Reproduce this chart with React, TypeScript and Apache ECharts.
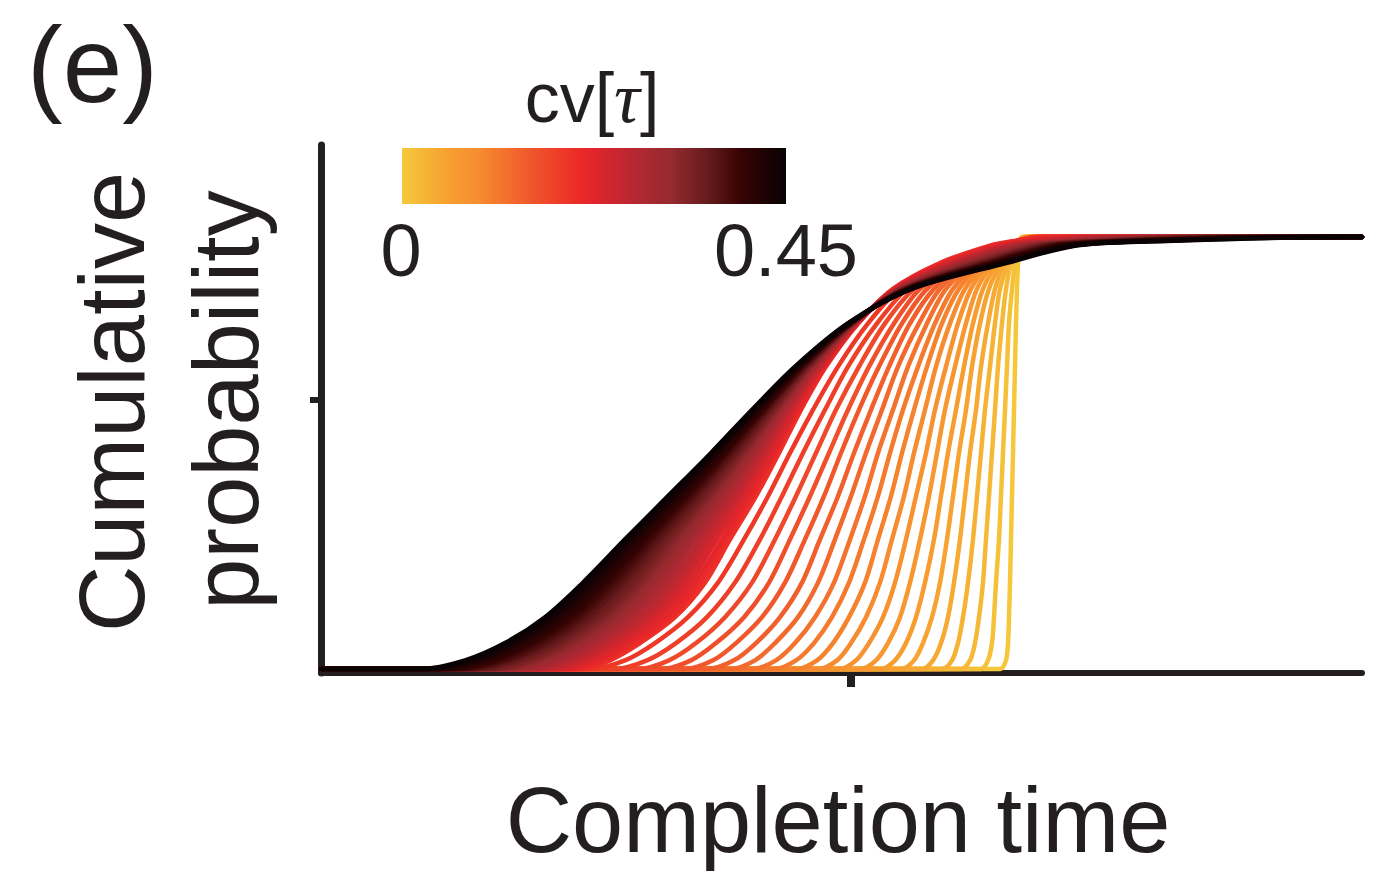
import { useEffect, useRef } from "react";
import * as echarts from "echarts";

// Cumulative probability levels at which each curve's completion time was read
const probLevels = [0, 0.02, 0.06, 0.12, 0.2, 0.3, 0.4, 0.5, 0.6, 0.7, 0.8, 0.88, 0.94, 0.98, 0.99, 1];
// cv[tau] of each curve (yellow -> black)
const cvValues = [
  0, 0.01, 0.02, 0.03, 0.04, 0.05, 0.06, 0.07, 0.08, 0.09,
  0.1, 0.11, 0.12, 0.13, 0.14, 0.15, 0.16, 0.17, 0.18, 0.19,
  0.2, 0.21, 0.22, 0.23, 0.24, 0.25, 0.26, 0.27, 0.28, 0.29,
  0.3, 0.31, 0.32, 0.33, 0.34, 0.35, 0.36, 0.37, 0.38, 0.39,
  0.4, 0.41, 0.42, 0.43, 0.44, 0.45,
];
// completion time (arbitrary units) at each probability level, one row per curve
const curveTimes = [
  [67.9, 68.5, 68.7, 68.8, 68.9, 69.0, 69.1, 69.2, 69.3, 69.4, 69.5, 69.6, 69.7, 69.8, 69.85, 70.1],
  [66.0, 66.7, 67.1, 67.3, 67.5, 67.8, 68.0, 68.2, 68.4, 68.6, 68.8, 69.1, 69.4, 69.7, 69.8, 70.2],
  [64.0, 64.9, 65.4, 65.8, 66.2, 66.5, 66.8, 67.1, 67.4, 67.7, 68.1, 68.5, 69.0, 69.6, 69.8, 70.3],
  [62.1, 63.1, 63.7, 64.2, 64.7, 65.2, 65.6, 66.0, 66.4, 66.9, 67.4, 67.9, 68.7, 69.4, 69.8, 70.4],
  [60.1, 61.2, 62.0, 62.7, 63.3, 63.9, 64.4, 64.9, 65.5, 66.0, 66.7, 67.4, 68.3, 69.3, 69.8, 70.4],
  [58.0, 59.3, 60.2, 61.1, 61.9, 62.6, 63.2, 63.8, 64.5, 65.1, 65.9, 66.8, 68.0, 69.2, 69.7, 70.5],
  [56.0, 57.4, 58.5, 59.5, 60.4, 61.3, 62.0, 62.7, 63.5, 64.3, 65.2, 66.2, 67.6, 69.0, 69.7, 70.6],
  [53.9, 55.5, 56.7, 57.9, 58.9, 59.9, 60.8, 61.6, 62.4, 63.4, 64.5, 65.6, 67.2, 68.9, 69.7, 70.7],
  [51.8, 53.5, 54.8, 56.2, 57.4, 58.5, 59.5, 60.5, 61.4, 62.5, 63.7, 65.0, 66.8, 68.8, 69.7, 70.8],
  [49.7, 51.6, 53.0, 54.5, 55.9, 57.1, 58.3, 59.3, 60.4, 61.5, 62.9, 64.4, 66.5, 68.6, 69.7, 70.9],
  [47.5, 49.6, 51.2, 52.8, 54.4, 55.7, 57.0, 58.1, 59.3, 60.6, 62.1, 63.8, 66.1, 68.5, 69.6, 71.0],
  [45.3, 47.5, 49.3, 51.1, 52.8, 54.3, 55.7, 56.9, 58.2, 59.7, 61.4, 63.2, 65.7, 68.4, 69.6, 71.1],
  [43.1, 45.5, 47.4, 49.4, 51.3, 52.9, 54.4, 55.7, 57.2, 58.7, 60.6, 62.5, 65.3, 68.2, 69.6, 71.2],
  [40.9, 43.4, 45.4, 47.7, 49.7, 51.4, 53.0, 54.5, 56.1, 57.7, 59.8, 61.9, 64.9, 68.1, 69.6, 71.3],
  [38.6, 41.3, 43.5, 45.9, 48.1, 49.9, 51.7, 53.3, 55.0, 56.8, 58.9, 61.3, 64.5, 67.9, 69.5, 71.4],
  [36.3, 39.2, 41.5, 44.1, 46.4, 48.4, 50.3, 52.0, 53.8, 55.8, 58.1, 60.6, 64.1, 67.8, 69.5, 71.5],
  [34.0, 37.0, 39.5, 42.3, 44.8, 46.9, 48.9, 50.8, 52.7, 54.8, 57.3, 59.9, 63.7, 67.6, 69.5, 71.6],
  [31.7, 34.8, 37.5, 40.4, 43.1, 45.4, 47.5, 49.5, 51.5, 53.8, 56.4, 59.3, 63.3, 67.5, 69.5, 71.7],
  [29.3, 32.6, 35.5, 38.6, 41.4, 43.9, 46.1, 48.2, 50.4, 52.7, 55.6, 58.6, 62.8, 67.4, 69.4, 71.8],
  [26.9, 30.4, 33.4, 36.7, 39.7, 42.3, 44.7, 46.9, 49.2, 51.7, 54.7, 57.9, 62.4, 67.2, 69.4, 71.9],
  [26.4, 28.9, 31.9, 35.4, 38.4, 40.9, 43.5, 45.8, 48.0, 50.5, 53.7, 57.2, 61.9, 66.9, 69.1, 71.9],
  [25.7, 28.3, 31.4, 34.9, 37.9, 40.5, 43.1, 45.5, 47.8, 50.4, 53.7, 57.3, 62.2, 67.2, 69.7, 73.1],
  [25.1, 27.7, 30.8, 34.4, 37.4, 40.1, 42.8, 45.3, 47.6, 50.3, 53.6, 57.4, 62.4, 67.6, 70.2, 74.3],
  [24.4, 27.2, 30.3, 33.8, 36.9, 39.6, 42.4, 45.0, 47.4, 50.1, 53.6, 57.4, 62.7, 67.9, 70.8, 75.5],
  [23.8, 26.6, 29.7, 33.3, 36.4, 39.2, 42.1, 44.7, 47.2, 50.0, 53.5, 57.5, 63.0, 68.3, 71.4, 76.7],
  [23.1, 26.0, 29.2, 32.8, 36.0, 38.8, 41.7, 44.4, 47.0, 49.9, 53.5, 57.6, 63.2, 68.6, 71.9, 77.9],
  [22.4, 25.4, 28.7, 32.3, 35.5, 38.4, 41.4, 44.2, 46.8, 49.8, 53.5, 57.7, 63.5, 68.9, 72.5, 79.1],
  [21.8, 24.8, 28.1, 31.8, 35.0, 38.0, 41.0, 43.9, 46.6, 49.6, 53.4, 57.7, 63.8, 69.3, 73.0, 80.3],
  [21.1, 24.3, 27.6, 31.2, 34.5, 37.5, 40.7, 43.6, 46.4, 49.5, 53.4, 57.8, 64.0, 69.6, 73.6, 81.5],
  [20.5, 23.7, 27.0, 30.7, 34.0, 37.1, 40.3, 43.4, 46.2, 49.4, 53.3, 57.9, 64.3, 70.0, 74.2, 82.7],
  [19.8, 23.1, 26.5, 30.2, 33.5, 36.7, 40.0, 43.1, 46.0, 49.3, 53.3, 58.0, 64.6, 70.3, 74.7, 83.9],
  [19.1, 22.5, 26.0, 29.7, 33.0, 36.3, 39.6, 42.8, 45.8, 49.1, 53.3, 58.0, 64.8, 70.6, 75.3, 85.1],
  [18.5, 21.9, 25.4, 29.2, 32.5, 35.9, 39.3, 42.5, 45.6, 49.0, 53.2, 58.1, 65.1, 71.0, 75.9, 86.3],
  [17.8, 21.4, 24.9, 28.6, 32.1, 35.4, 38.9, 42.3, 45.5, 48.9, 53.2, 58.2, 65.4, 71.3, 76.4, 87.5],
  [17.2, 20.8, 24.3, 28.1, 31.6, 35.0, 38.6, 42.0, 45.3, 48.8, 53.1, 58.3, 65.7, 71.7, 77.0, 88.7],
  [16.5, 20.2, 23.8, 27.6, 31.1, 34.6, 38.2, 41.7, 45.1, 48.6, 53.1, 58.3, 65.9, 72.0, 77.6, 89.9],
  [15.8, 19.6, 23.3, 27.1, 30.6, 34.2, 37.9, 41.5, 44.9, 48.5, 53.1, 58.4, 66.2, 72.3, 78.1, 91.1],
  [15.2, 19.0, 22.7, 26.6, 30.1, 33.8, 37.5, 41.2, 44.7, 48.4, 53.0, 58.5, 66.5, 72.7, 78.7, 92.3],
  [14.5, 18.5, 22.2, 26.0, 29.6, 33.3, 37.2, 40.9, 44.5, 48.3, 53.0, 58.6, 66.7, 73.0, 79.3, 93.5],
  [13.9, 17.9, 21.6, 25.5, 29.1, 32.9, 36.8, 40.6, 44.3, 48.1, 52.9, 58.6, 67.0, 73.4, 79.8, 94.7],
  [13.2, 17.3, 21.1, 25.0, 28.6, 32.5, 36.5, 40.4, 44.1, 48.0, 52.9, 58.7, 67.3, 73.7, 80.4, 95.9],
  [12.5, 16.7, 20.6, 24.5, 28.2, 32.1, 36.1, 40.1, 43.9, 47.9, 52.9, 58.8, 67.5, 74.0, 80.9, 97.1],
  [11.9, 16.1, 20.0, 24.0, 27.7, 31.7, 35.8, 39.8, 43.7, 47.8, 52.8, 58.9, 67.8, 74.4, 81.5, 98.3],
  [11.2, 15.6, 19.5, 23.4, 27.2, 31.2, 35.4, 39.5, 43.5, 47.6, 52.8, 58.9, 68.1, 74.7, 82.1, 99.5],
  [10.6, 15.0, 18.9, 22.9, 26.7, 30.8, 35.1, 39.3, 43.3, 47.5, 52.7, 59.0, 68.3, 75.1, 82.6, 100.7],
  [9.9, 14.4, 18.4, 22.4, 26.2, 30.4, 34.7, 39.0, 43.1, 47.4, 52.7, 59.1, 68.6, 75.4, 83.2, 101.9],
];
const cvMax = 0.45;
const xMax = 104.1;
const xTicks = [53];
const yTicks = [0.6227];
const colorbarLabels = ["0", "0.45"];

const cmapStops: [number, string][] = [
  [0.0, "#f5c83b"],
  [0.12, "#f7a030"],
  [0.2, "#f68c2f"],
  [0.33, "#f0592c"],
  [0.46, "#ec2a27"],
  [0.5, "#e0252b"],
  [0.62, "#b02832"],
  [0.7, "#952a2f"],
  [0.8, "#651a1c"],
  [0.88, "#380303"],
  [1.0, "#080204"],
];

function hexToRgb(h: string) {
  return [parseInt(h.slice(1, 3), 16), parseInt(h.slice(3, 5), 16), parseInt(h.slice(5, 7), 16)];
}
function colorAt(f: number) {
  for (let i = 1; i < cmapStops.length; i++) {
    const [f1, c1] = cmapStops[i];
    const [f0, c0] = cmapStops[i - 1];
    if (f <= f1 + 1e-9) {
      const u = Math.max(0, Math.min(1, (f - f0) / (f1 - f0 || 1)));
      const a = hexToRgb(c0);
      const b = hexToRgb(c1);
      const r = a.map((v, k) => Math.round(v + (b[k] - v) * u));
      return `rgb(${r[0]},${r[1]},${r[2]})`;
    }
  }
  return cmapStops[cmapStops.length - 1][1];
}

const FONT = "'Liberation Sans', Arial, Helvetica, sans-serif";
const AXIS_COLOR = "#231f20";

export default function App() {
  const ref = useRef<HTMLDivElement>(null);
  useEffect(() => {
    document.body.style.margin = "0";
    const chart = echarts.init(ref.current!, undefined, { renderer: "svg" });
    const series = cvValues.map((cv, i) => ({
      type: "line",
      name: `cv=${cv}`,
      data: [[0, 0], ...probLevels.map((p, j) => [curveTimes[i][j], p]), [xMax, 1]],
      showSymbol: false,
      smooth: 0.3,
      lineStyle: { color: colorAt(cv / cvMax), width: 4.5, cap: "round", join: "round" },
      silent: true,
    }));
    chart.setOption({
      animation: false,
      grid: { left: 321, top: 145, width: 1041, height: 528 },
      xAxis: {
        type: "value",
        min: 0,
        max: xMax,
        axisLine: { show: true, onZero: false, lineStyle: { color: AXIS_COLOR, width: 6 } },
        axisTick: { show: true, customValues: xTicks, length: 14, lineStyle: { color: AXIS_COLOR, width: 8 } },
        axisLabel: { show: false },
        splitLine: { show: false },
      },
      yAxis: {
        type: "value",
        min: -0.00926,
        max: 1.213,
        axisLine: { show: true, onZero: false, lineStyle: { color: AXIS_COLOR, width: 7 } },
        axisTick: { show: true, customValues: yTicks, length: 11, lineStyle: { color: AXIS_COLOR, width: 6 } },
        axisLabel: { show: false },
        splitLine: { show: false },
      },
      series,
      graphic: [
        {
          type: "text",
          x: 27,
          y: 65,
          style: { text: "(e)", font: `107px ${FONT}`, lineHeight: 100, fill: "#231f20", align: "left", verticalAlign: "middle" },
        },
        {
          type: "text",
          x: 592,
          y: 98,
          style: {
            text: "{a|cv[}{b|τ}{a|]}",
            align: "center",
            verticalAlign: "middle",
            rich: {
              a: { fontFamily: FONT, fontSize: 70, fill: "#231f20" },
              b: { fontFamily: "'Liberation Serif', 'DejaVu Serif', serif", fontStyle: "italic", fontSize: 72, fill: "#231f20" },
            },
          },
        },
        {
          type: "rect",
          shape: { x: 402, y: 148, width: 384, height: 56 },
          style: {
            fill: new echarts.graphic.LinearGradient(
              0, 0, 1, 0,
              cmapStops.map(([o, c]) => ({ offset: o, color: c }))
            ),
          },
        },
        {
          type: "text",
          x: 401,
          y: 250,
          style: { text: colorbarLabels[0], font: `74px ${FONT}`, fill: "#231f20", align: "center", verticalAlign: "middle" },
        },
        {
          type: "text",
          x: 858,
          y: 250,
          style: { text: colorbarLabels[1], font: `74px ${FONT}`, fill: "#231f20", align: "right", verticalAlign: "middle" },
        },
        {
          type: "text",
          x: 112,
          y: 402,
          rotation: Math.PI / 2,
          style: { text: "Cumulative", font: `92px ${FONT}`, fill: "#231f20", align: "center", verticalAlign: "middle" },
        },
        {
          type: "text",
          x: 226,
          y: 400,
          rotation: Math.PI / 2,
          style: { text: "probability", font: `92px ${FONT}`, fill: "#231f20", align: "center", verticalAlign: "middle" },
        },
        {
          type: "text",
          x: 838,
          y: 820,
          style: { text: "Completion time", font: `92px ${FONT}`, lineHeight: 80, fill: "#231f20", align: "center", verticalAlign: "middle" },
        },
      ],
    });
    return () => chart.dispose();
  }, []);
  return <div ref={ref} style={{ width: 1398, height: 873 }} />;
}
